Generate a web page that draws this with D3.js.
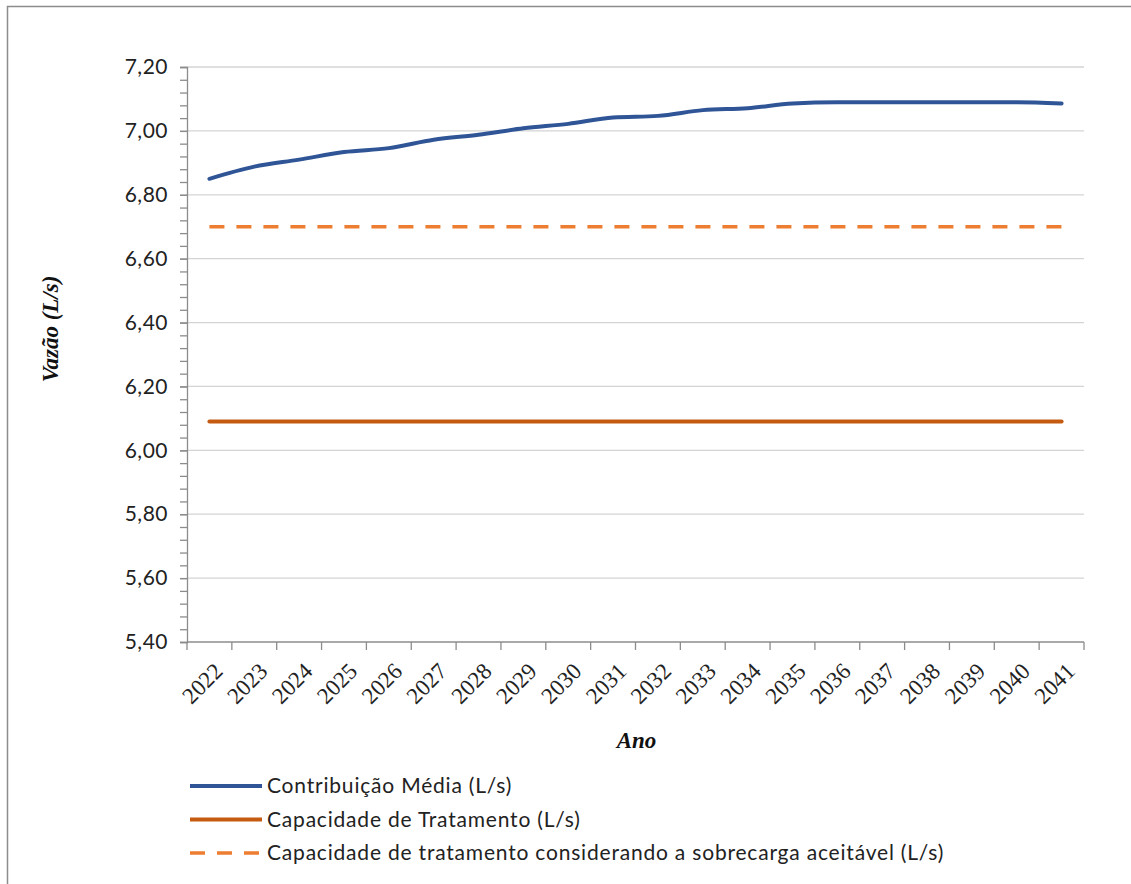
<!DOCTYPE html>
<html>
<head>
<meta charset="utf-8">
<script src="https://cdn.jsdelivr.net/npm/d3@7"></script>
<style>
  body { margin: 0; background: #fff; }
  svg { display: block; font-family: Lato, "Open Sans", sans-serif; }
</style>
</head>
<body>
<div id="chart"></div>
<script>
const anos = ["2022","2023","2024","2025","2026","2027","2028","2029","2030","2031",
  "2032","2033","2034","2035","2036","2037","2038","2039","2040","2041"];
const contribuicao = [6.850, 6.888, 6.910, 6.934, 6.946, 6.972, 6.988, 7.008, 7.022, 7.042,
  7.047, 7.065, 7.071, 7.086, 7.090, 7.090, 7.090, 7.090, 7.090, 7.086];
const capacidade = anos.map(() => 6.09);
const capacidadeSobrecarga = anos.map(() => 6.70);
const yTicks = [5.40, 5.60, 5.80, 6.00, 6.20, 6.40, 6.60, 6.80, 7.00, 7.20];

const series = [
  { nome: "Contribuição Média (L/s)", valores: contribuicao, cor: "#2f5597", largura: 4, dash: null },
  { nome: "Capacidade de Tratamento (L/s)", valores: capacidade, cor: "#c55a11", largura: 4, dash: null },
  { nome: "Capacidade de tratamento considerando a sobrecarga aceitável (L/s)", valores: capacidadeSobrecarga, cor: "#ed7d31", largura: 3.5, dash: "15,12" }
];

const width = 1131, height = 884;
const margin = { top: 67, left: 187, right: 1084, bottom: 642 };
const serif = "'Liberation Serif', 'DejaVu Serif', serif";

const svg = d3.select("#chart").append("svg")
  .attr("width", width)
  .attr("height", height);

// outer frame
svg.append("rect")
  .attr("x", 7.5).attr("y", 6.5)
  .attr("width", width).attr("height", height)
  .attr("fill", "none")
  .attr("stroke", "#8c8c8c")
  .attr("stroke-width", 1.5);

const x = d3.scaleBand().domain(anos).range([margin.left, margin.right]);
const y = d3.scaleLinear().domain([5.40, 7.20]).range([margin.bottom, margin.top]);

/* gridlines */
svg.append("g")
  .selectAll("line")
  .data(yTicks.slice(1))
  .enter().append("line")
  .attr("x1", margin.left).attr("x2", margin.right)
  .attr("y1", d => y(d)).attr("y2", d => y(d))
  .attr("stroke", "#d4d4d4")
  .attr("stroke-width", 1.3);

/* y axis with minor ticks */
const minor = d3.range(0, 46).map(i => 5.40 + i * 0.04);
const yMinor = d3.axisLeft(y).tickValues(minor).tickSize(7).tickFormat("");
svg.append("g")
  .attr("transform", `translate(${margin.left},0)`)
  .call(yMinor)
  .call(g => g.selectAll("line, path").attr("stroke", "#8c8c8c").attr("stroke-width", 1.3));

const yAxis = d3.axisLeft(y).tickValues(yTicks).tickSize(7).tickPadding(12)
  .tickFormat(d => d3.format(".2f")(d).replace(".", ","));
svg.append("g")
  .attr("transform", `translate(${margin.left},0)`)
  .call(yAxis)
  .call(g => g.select(".domain").remove())
  .call(g => g.selectAll("line").attr("stroke", "#8c8c8c").attr("stroke-width", 1.3))
  .call(g => g.selectAll("text")
    .attr("font-size", 21)
    .attr("letter-spacing", 0.5)
    .attr("fill", "#222")
    .attr("font-family", "Lato, sans-serif"));

/* x axis: ticks at category boundaries */
const xAxisG = svg.append("g").attr("transform", `translate(0,${margin.bottom})`);
xAxisG.append("line")
  .attr("x1", margin.left).attr("x2", margin.right)
  .attr("stroke", "#8c8c8c").attr("stroke-width", 1.3);
const bordas = anos.map(a => x(a)).concat([margin.right]);
xAxisG.selectAll(".tk").data(bordas).enter().append("line")
  .attr("class", "tk")
  .attr("x1", d => d).attr("x2", d => d)
  .attr("y1", 0).attr("y2", 8)
  .attr("stroke", "#8c8c8c").attr("stroke-width", 1.3);
xAxisG.selectAll("text").data(anos).enter().append("text")
  .attr("transform", d => `translate(${x(d) + x.bandwidth() / 2 + 9},${25}) rotate(-45)`)
  .attr("text-anchor", "end")
  .attr("dy", "0.35em")
  .attr("font-size", 23)
  .attr("font-family", serif)
  .attr("fill", "#222")
  .text(d => d);

/* lines */
const linha = d3.line()
  .x((d, i) => x(anos[i]) + x.bandwidth() / 2)
  .y(d => y(d))
  .curve(d3.curveMonotoneX);

series.slice().reverse().forEach(s => {
  svg.append("path")
    .attr("d", linha(s.valores))
    .attr("fill", "none")
    .attr("stroke", s.cor)
    .attr("stroke-width", s.largura)
    .attr("stroke-linecap", s.dash ? "butt" : "round")
    .attr("stroke-dasharray", s.dash);
});

/* axis titles */
svg.append("text")
  .attr("x", (margin.left + margin.right) / 2 + 1)
  .attr("y", 748)
  .attr("text-anchor", "middle")
  .attr("font-size", 23)
  .attr("font-family", serif)
  .attr("font-weight", "bold")
  .attr("font-style", "italic")
  .attr("fill", "#111")
  .text("Ano");

svg.append("text")
  .attr("transform", "translate(58,329) rotate(-90)")
  .attr("text-anchor", "middle")
  .attr("font-size", 23)
  .attr("font-family", serif)
  .attr("font-weight", "bold")
  .attr("font-style", "italic")
  .attr("fill", "#111")
  .text("Vazão (L/s)");

/* legend */
const legenda = svg.append("g").attr("transform", "translate(190,786)");
const item = legenda.selectAll("g").data(series).enter().append("g")
  .attr("transform", (d, i) => `translate(0,${i * 33.5})`);
item.append("line")
  .attr("x1", 0).attr("x2", 72)
  .attr("stroke", d => d.cor)
  .attr("stroke-width", d => d.largura)
  .attr("stroke-dasharray", d => d.dash);
item.append("text")
  .attr("x", 77)
  .attr("dy", "0.35em")
  .attr("font-size", 21)
  .attr("letter-spacing", 0.8)
  .attr("fill", "#222")
  .text(d => d.nome);
</script>
</body>
</html>
